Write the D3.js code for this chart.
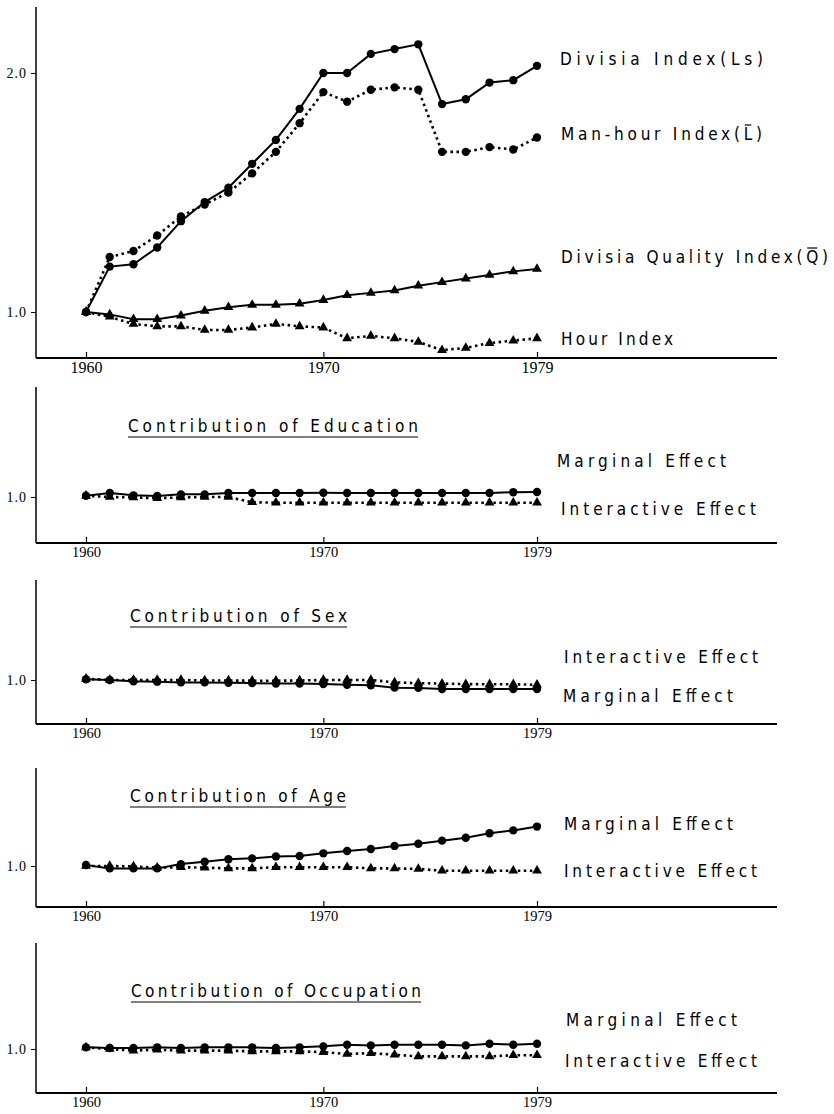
<!DOCTYPE html>
<html>
<head>
<meta charset="utf-8">
<script src="https://cdn.jsdelivr.net/npm/d3@7"></script>
<style>
  body { margin: 0; background: #fff; }
  svg { display: block; }
  .lab { font-family: "DejaVu Sans", sans-serif; font-stretch: condensed; font-size: 17px; }
  .yr { font-family: "Liberation Serif", serif; }
</style>
</head>
<body>
<div id="chart"></div>
<script>

// ---- data ----
var years = [1960,1961,1962,1963,1964,1965,1966,1967,1968,1969,
             1970,1971,1972,1973,1974,1975,1976,1977,1978,1979];
var yearTicks = [1960, 1970, 1979];

var divisiaLs = [1.00,1.19,1.20,1.27,1.38,1.46,1.52,1.62,1.72,1.85,2.00,2.00,2.08,2.10,2.12,1.87,1.89,1.96,1.97,2.03];
var manHour   = [1.00,1.23,1.255,1.32,1.40,1.45,1.50,1.58,1.67,1.79,1.92,1.88,1.93,1.94,1.93,1.67,1.67,1.69,1.68,1.73];
var quality   = [1.00,0.99,0.97,0.97,0.985,1.005,1.02,1.03,1.03,1.035,1.05,1.07,1.08,1.09,1.11,1.125,1.14,1.155,1.17,1.18];
var hourIdx   = [1.00,0.98,0.95,0.94,0.94,0.925,0.925,0.935,0.95,0.94,0.935,0.89,0.90,0.89,0.875,0.84,0.85,0.87,0.88,0.89];

var eduMarginal    = [1.005,1.017,1.007,1.004,1.011,1.011,1.017,1.017,1.017,1.017,1.018,1.017,1.017,1.017,1.017,1.017,1.017,1.017,1.02,1.021];
var eduInteractive = [1.005,1.0,0.998,0.995,0.998,1.0,1.0,0.978,0.976,0.976,0.976,0.976,0.976,0.976,0.976,0.976,0.976,0.976,0.976,0.976];

var sexMarginal    = [1.003,1.0,0.995,0.993,0.99,0.99,0.988,0.987,0.985,0.985,0.983,0.98,0.978,0.968,0.967,0.962,0.962,0.962,0.962,0.962];
var sexInteractive = [1.005,1.0,1.0,1.0,1.0,0.998,0.998,0.997,0.997,0.998,1.0,1.0,1.0,0.99,0.987,0.985,0.983,0.982,0.982,0.98];

var ageMarginal    = [1.004,0.99,0.99,0.99,1.008,1.018,1.028,1.032,1.04,1.042,1.053,1.063,1.071,1.084,1.093,1.106,1.118,1.137,1.149,1.165];
var ageInteractive = [1.0,1.0,0.998,0.993,0.995,0.993,0.99,0.99,0.995,0.995,0.995,0.995,0.99,0.99,0.988,0.98,0.98,0.98,0.98,0.98];

var occMarginal    = [1.007,1.004,1.004,1.007,1.004,1.007,1.007,1.007,1.004,1.007,1.011,1.018,1.015,1.018,1.018,1.018,1.015,1.022,1.018,1.022];
var occInteractive = [1.007,1.0,0.993,0.997,0.993,0.993,0.993,0.99,0.99,0.99,0.987,0.979,0.983,0.976,0.969,0.969,0.969,0.969,0.974,0.974];

// ---- panels ----
var W = 834, H = 1114;
var unit = 239;        // px per index point, same in every panel
var axisX = 36, axisEnd = 777;

var panels = [
  { top: 7, one: 312, bottom: 358, yTicks: [1, 2], title: null, big: true,
    series: [
      { values: divisiaLs, dotted: false, marker: "circle",   label: "Divisia Index(Ls)",        lx: 560, ly: 65,  lw: 203 },
      { values: manHour,   dotted: true,  marker: "circle",   label: "Man-hour Index(L)",        lx: 561, ly: 140, lw: 201, bar: 15 },
      { values: quality,   dotted: false, marker: "triangle", label: "Divisia Quality Index(Q)", lx: 561, ly: 263, lw: 267, bar: 22 },
      { values: hourIdx,   dotted: true,  marker: "triangle", label: "Hour Index",               lx: 561, ly: 345, lw: 112 }
    ] },
  { top: 387, one: 497, bottom: 543, yTicks: [1], title: { text: "Contribution of Education", x: 128, y: 432, w: 290 },
    series: [
      { values: eduMarginal,    dotted: false, marker: "circle",   label: "Marginal Effect",    lx: 557, ly: 467, lw: 169 },
      { values: eduInteractive, dotted: true,  marker: "triangle", label: "Interactive Effect", lx: 561, ly: 515, lw: 195 }
    ] },
  { top: 580, one: 680, bottom: 724, yTicks: [1], title: { text: "Contribution of Sex", x: 130, y: 622, w: 217 },
    series: [
      { values: sexMarginal,    dotted: false, marker: "circle",   label: "Marginal Effect",    lx: 563, ly: 702, lw: 170 },
      { values: sexInteractive, dotted: true,  marker: "triangle", label: "Interactive Effect", lx: 564, ly: 663, lw: 194 }
    ] },
  { top: 768, one: 866, bottom: 907, yTicks: [1], title: { text: "Contribution of Age", x: 130, y: 802, w: 216 },
    series: [
      { values: ageMarginal,    dotted: false, marker: "circle",   label: "Marginal Effect",    lx: 564, ly: 830, lw: 169 },
      { values: ageInteractive, dotted: true,  marker: "triangle", label: "Interactive Effect", lx: 564, ly: 877, lw: 193 }
    ] },
  { top: 943, one: 1049, bottom: 1093, yTicks: [1], title: { text: "Contribution of Occupation", x: 131, y: 997, w: 290 },
    series: [
      { values: occMarginal,    dotted: false, marker: "circle",   label: "Marginal Effect",    lx: 566, ly: 1026, lw: 171 },
      { values: occInteractive, dotted: true,  marker: "triangle", label: "Interactive Effect", lx: 565, ly: 1067, lw: 192 }
    ] }
];

var svg = d3.select("#chart").append("svg")
  .attr("width", W)
  .attr("height", H);

var x = d3.scaleLinear().domain([1960, 1979]).range([86, 537]);

panels.forEach(function(p) {
  var g = svg.append("g");

  var y = d3.scaleLinear()
    .domain([1, 2])
    .range([p.one, p.one - unit]);

  // axis lines
  g.append("line")
    .attr("x1", axisX).attr("x2", axisX)
    .attr("y1", p.top).attr("y2", p.bottom)
    .attr("stroke", "#000").attr("stroke-width", 1.5);
  g.append("line")
    .attr("x1", axisX).attr("x2", axisEnd)
    .attr("y1", p.bottom).attr("y2", p.bottom)
    .attr("stroke", "#000").attr("stroke-width", 2);

  // x axis: ticks point up, year labels underneath
  var xa = g.append("g")
    .attr("transform", "translate(0," + p.bottom + ")")
    .call(d3.axisBottom(x).tickValues(yearTicks).tickSize(-6).tickPadding(4).tickFormat(d3.format("d")));
  xa.select(".domain").remove();
  xa.attr("font-size", p.big ? 16 : 14.5).attr("font-family", "Liberation Serif");
  xa.selectAll("line").attr("stroke-width", 1.2);

  // y axis
  var ya = g.append("g")
    .attr("transform", "translate(" + axisX + ",0)")
    .call(d3.axisLeft(y).tickValues(p.yTicks).tickSize(5).tickPadding(4).tickFormat(d3.format(".1f")));
  ya.select(".domain").remove();
  ya.attr("font-size", 14).attr("font-family", "Liberation Serif");
  ya.selectAll("text").attr("letter-spacing", "1px");

  // series
  p.series.forEach(function(s) {
    var pts = years.map(function(yr, i) { return [yr, s.values[i]]; });
    var line = d3.line()
      .x(function(d) { return x(d[0]); })
      .y(function(d) { return y(d[1]); });

    g.append("path")
      .datum(pts)
      .attr("d", line)
      .attr("fill", "none")
      .attr("stroke", "#000")
      .attr("stroke-width", s.dotted ? 2.6 : 2)
      .attr("stroke-dasharray", s.dotted ? "2.5,3.5" : null);

    var sym = d3.symbol()
      .type(s.marker === "circle" ? d3.symbolCircle : d3.symbolTriangle)
      .size(s.marker === "circle" ? 55 : 42);

    g.selectAll(null)
      .data(pts)
      .enter().append("path")
      .attr("d", sym)
      .attr("transform", function(d) { return "translate(" + x(d[0]) + "," + y(d[1]) + ")"; })
      .attr("fill", "#000");

    var t = g.append("text")
      .attr("class", "lab")
      .attr("x", s.lx).attr("y", s.ly)
      .attr("textLength", s.lw)
      .attr("lengthAdjust", "spacing")
      .text(s.label);

    // bar over L / Q
    if (s.bar != null) {
      var ext = t.node().getExtentOfChar(s.bar);
      g.append("line")
        .attr("x1", ext.x + 1).attr("x2", ext.x + ext.width - 1)
        .attr("y1", ext.y + 1).attr("y2", ext.y + 1)
        .attr("stroke", "#000").attr("stroke-width", 1.2);
    }
  });

  // underlined panel title
  if (p.title) {
    g.append("text")
      .attr("class", "lab")
      .attr("x", p.title.x).attr("y", p.title.y)
      .attr("textLength", p.title.w)
      .attr("lengthAdjust", "spacing")
      .text(p.title.text);
    g.append("line")
      .attr("x1", p.title.x).attr("x2", p.title.x + p.title.w)
      .attr("y1", p.title.y + 5).attr("y2", p.title.y + 5)
      .attr("stroke", "#000").attr("stroke-width", 1.2);
  }
});

</script>
</body>
</html>
